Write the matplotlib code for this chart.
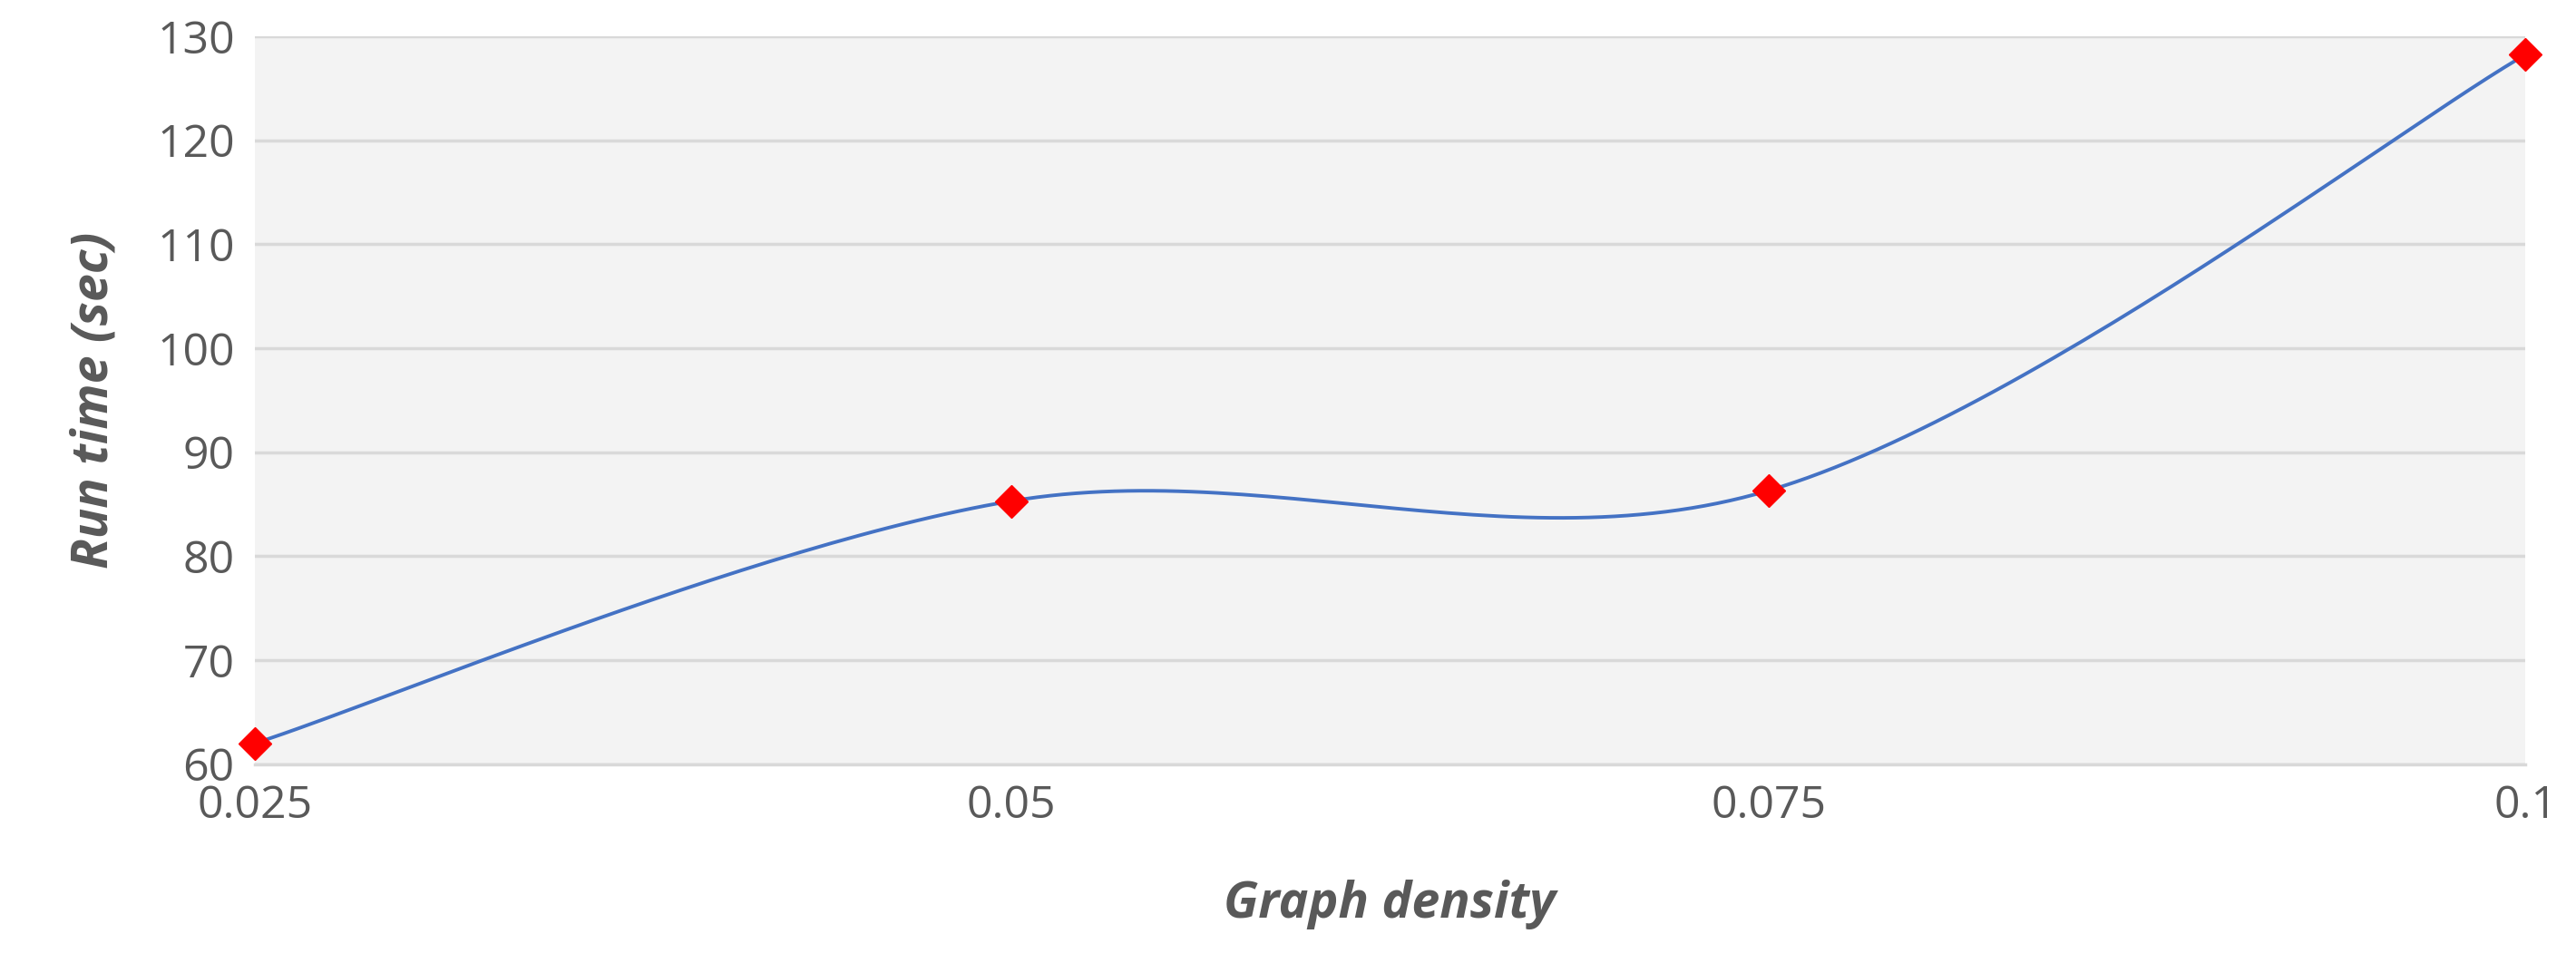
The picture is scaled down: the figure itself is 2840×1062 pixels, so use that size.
import matplotlib
matplotlib.use("Agg")
import matplotlib.pyplot as plt
import numpy as np

density = [0.025, 0.05, 0.075, 0.1]
tick_labels = ["0.025", "0.05", "0.075", "0.1"]
run_time = [62.0, 85.3, 86.3, 128.2]

fig = plt.figure(figsize=(28.4, 10.62), dpi=100)
ax = fig.add_axes([0.0989, 0.2065, 0.8814, 0.756])
ax.set_facecolor("#F3F3F3")

# Excel-like smoothed line (Catmull-Rom Bezier)
x = np.array(density); y = np.array(run_time)
P = np.column_stack([x, y])
n = len(P)
xs, ys = [], []
t = np.linspace(0, 1, 60)
for i in range(n - 1):
    p0 = P[i - 1] if i > 0 else P[i]
    p3 = P[i + 2] if i + 2 < n else P[i + 1]
    c1 = P[i] + (P[i + 1] - p0) / 6
    c2 = P[i + 1] - (p3 - P[i]) / 6
    b = ((1 - t) ** 3)[:, None] * P[i] + (3 * (1 - t) ** 2 * t)[:, None] * c1 \
        + (3 * (1 - t) * t ** 2)[:, None] * c2 + (t ** 3)[:, None] * P[i + 1]
    xs.extend(b[:, 0]); ys.extend(b[:, 1])
ax.plot(xs, ys, color="#4472C4", lw=2.8, zorder=3, clip_on=False)
ax.plot(x, y, ls="none", marker="D", color="#FF0000", markersize=18, zorder=4, clip_on=False)

ax.set_xlim(0.025, 0.1)
ax.set_ylim(60, 130)
ax.set_yticks(range(60, 131, 10))
ax.set_xticks(density)
ax.set_xticklabels(tick_labels)
ax.grid(axis="y", color="#D9D9D9", lw=2.5)
ax.set_axisbelow(True)
for s in ["top", "right", "left"]:
    ax.spines[s].set_visible(False)
ax.spines["bottom"].set_color("#D9D9D9")
ax.spines["bottom"].set_linewidth(2.5)
ax.tick_params(length=0, labelsize=36, labelcolor="#595959", pad=16, labelfontfamily="Open Sans")
ax.set_xlabel("Graph density", fontsize=40, fontweight="bold", style="italic",
              color="#595959", family="Open Sans", labelpad=40)
ax.set_ylabel("Run time (sec)", fontsize=40, fontweight="bold", style="italic",
              color="#595959", family="Open Sans", labelpad=30)
fig.savefig("out.png", dpi=100)
